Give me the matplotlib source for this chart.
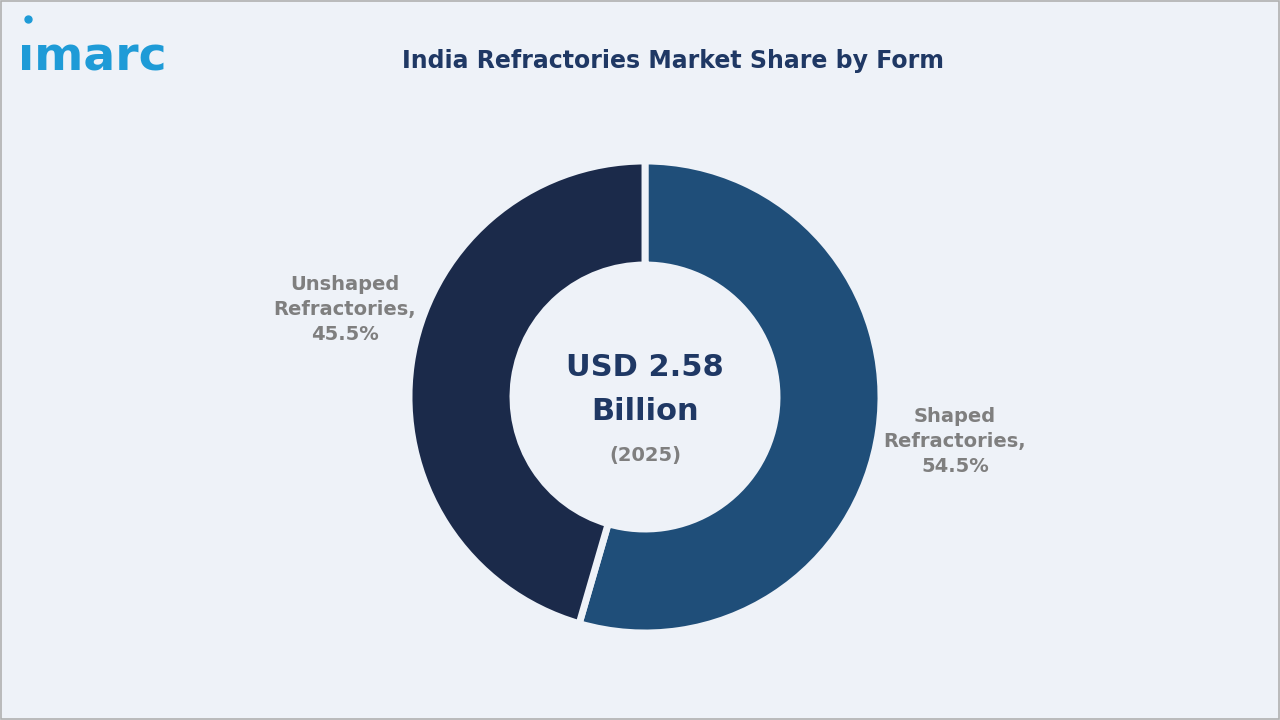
import matplotlib.pyplot as plt

categories = ["Shaped\nRefractories,", "Unshaped\nRefractories,"]
shares = [54.5, 45.5]
colors = ["#1f4e79", "#1b2a4a"]

fig = plt.figure(figsize=(12.8, 7.2), dpi=100)
fig.patch.set_facecolor("#eef2f8")
ax = fig.add_axes([0, 0, 1, 1])
ax.set_xlim(0, 1280)
ax.set_ylim(720, 0)
ax.set_aspect("equal")
ax.axis("off")

# border
ax.add_patch(plt.Rectangle((1, 1), 1278, 718, fill=False, ec="#b0b0b0", lw=1.2))

# y axis is inverted: startangle -90 is the top on screen, and
# counterclock in data space runs clockwise on screen
wedges, _ = ax.pie(shares, colors=colors, startangle=-90, counterclock=True,
                   center=(645, 397), radius=236,
                   wedgeprops=dict(width=104, edgecolor="#eef2f8", linewidth=5))
ax.set_xlim(0, 1280)
ax.set_ylim(720, 0)

ax.text(955, 442, f"{categories[0]}\n{shares[0]}%", ha="center", va="center",
        fontsize=14, color="#7f7f7f", fontweight="semibold", linespacing=1.4)
ax.text(345, 309, f"{categories[1]}\n{shares[1]}%", ha="center", va="center",
        fontsize=14, color="#7f7f7f", fontweight="semibold", linespacing=1.4)

ax.text(645, 368, "USD 2.58", ha="center", va="center", fontsize=22,
        fontweight="bold", color="#1f3864")
ax.text(645, 412, "Billion", ha="center", va="center", fontsize=22,
        fontweight="bold", color="#1f3864")
ax.text(645, 456, "(2025)", ha="center", va="center", fontsize=14,
        fontweight="semibold", color="#7f7f7f")

ax.text(673, 61, "India Refractories Market Share by Form", ha="center",
        va="center", fontsize=17, fontweight="bold", color="#1f3864")

ax.text(18, 58, "ımarc", ha="left", va="center", fontsize=34,
        fontweight="bold", color="#1e9bd7")
ax.plot(28, 19, "o", color="#1e9bd7", ms=5)

fig.savefig("out.png", dpi=100, facecolor=fig.get_facecolor())
